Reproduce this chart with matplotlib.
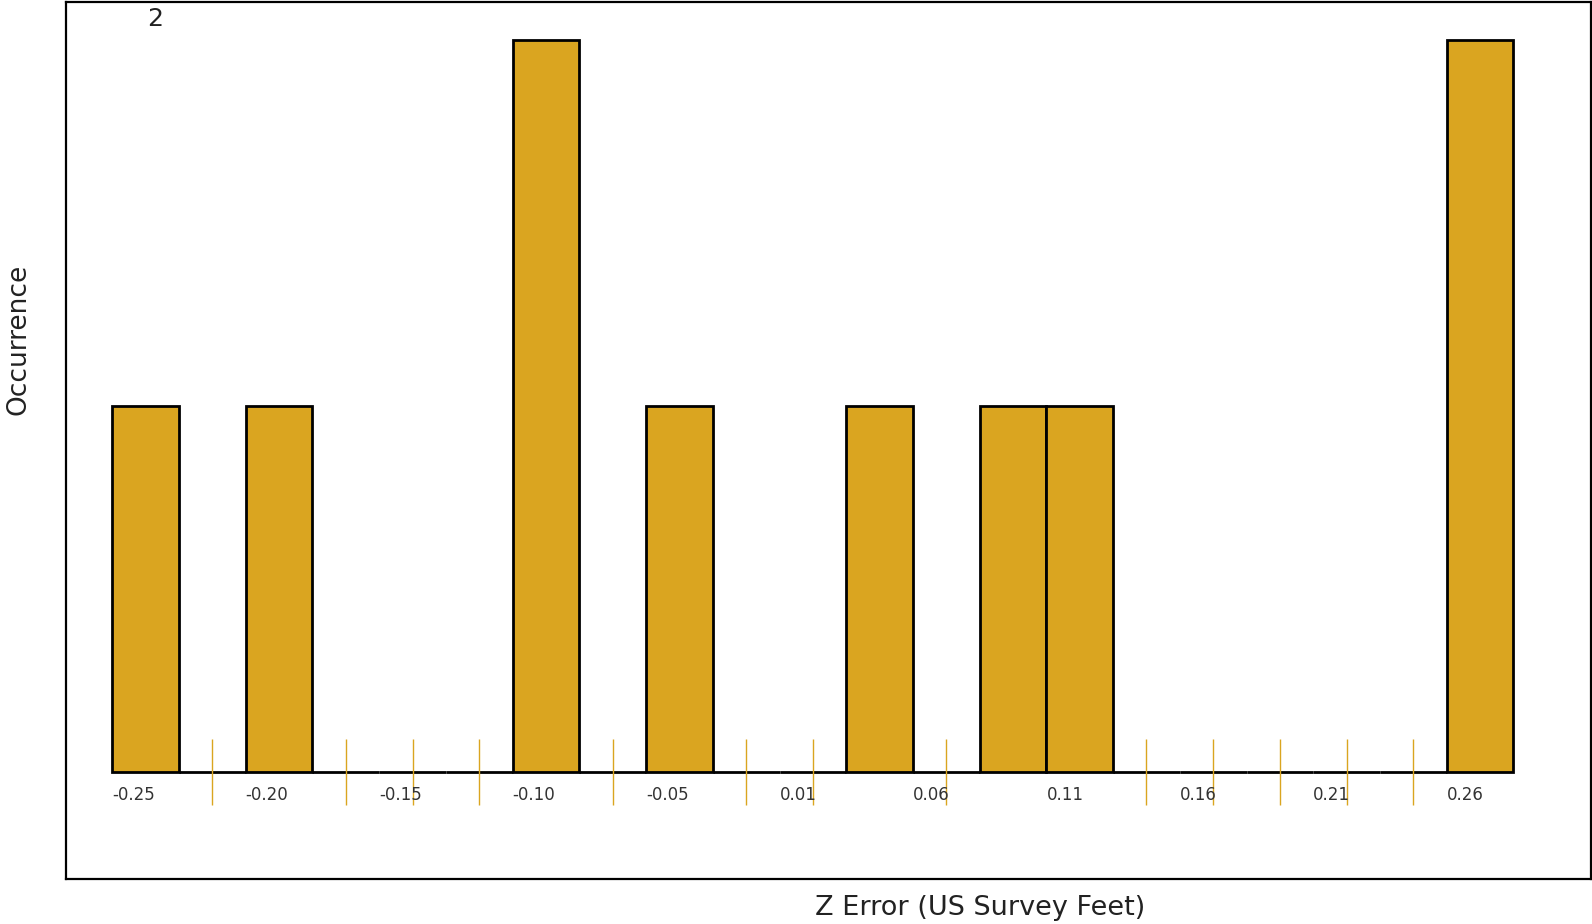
import matplotlib
matplotlib.use("Agg")
import matplotlib.pyplot as plt
import numpy as np

# ---- data ----
bin_start = -0.25
bin_width = 0.0255
counts = [1, 0, 1, 0, 0, 0, 2, 0, 1, 0, 0, 1, 0, 1, 1, 0, 0, 0, 0, 0, 2]
tick_labels = ["-0.25", "-0.20", "-0.15", "-0.10", "-0.05", "0.01",
               "0.06", "0.11", "0.16", "0.21", "0.26"]
y_max_label = "2"
x_title = "Z Error (US Survey Feet)"
y_title = "Occurrence"

bar_color = "#DAA520"

W, H = 1592, 924
fig = plt.figure(figsize=(W / 100, H / 100), dpi=100)
plt.rcParams['font.family'] = ['DejaVu Sans']

# frame rectangle in pixels
fl, fr, ft, fb = 66, 1591, 2, 879
ax = fig.add_axes([fl / W, (H - fb) / H, (fr - fl) / W, (fb - ft) / H])

n = len(counts)
lefts = bin_start + np.arange(n) * bin_width
counts_arr = np.array(counts)

# pixel calibration of the plotting region
x0_pix, bw_pix = 112.3, 66.72
base_pix, px_per_unit = 772.3, 366.15
k_left = (fl - x0_pix) / bw_pix
k_right = (fr - x0_pix) / bw_pix
ax.set_xlim(bin_start + k_left * bin_width, bin_start + k_right * bin_width)
ax.set_ylim(-(fb - base_pix) / px_per_unit, (base_pix - ft) / px_per_unit)

ax.bar(lefts, counts_arr, width=bin_width, align='edge', color=bar_color,
       edgecolor='black', linewidth=2, zorder=2)

empty_centers = lefts[counts_arr == 0] + bin_width / 2
ax.vlines(empty_centers, -0.09, 0.09, color=bar_color, linewidth=1, zorder=3)

ax.set_xticks([])
ax.set_yticks([])
for s in ax.spines.values():
    s.set_linewidth(1.6)
    s.set_color('black')

# tick labels left-aligned on even bins
for i, lab in enumerate(tick_labels):
    ax.text(lefts[2 * i], -(795 - base_pix) / px_per_unit, lab,
            ha='left', va='center', fontsize=12, color='#333333')

# y max label
fig.text(155 / W, 1 - 19 / H, y_max_label, ha='center', va='center',
         fontsize=18, color='#222222')
# axis titles
fig.text(980 / W, 1 - 908 / H, x_title, ha='center', va='center',
         fontsize=19.5, color='#222222')
fig.text(19 / W, 1 - 339 / H, y_title, ha='center', va='center',
         fontsize=19, color='#222222', rotation=90)

fig.savefig("out.png", dpi=100)
